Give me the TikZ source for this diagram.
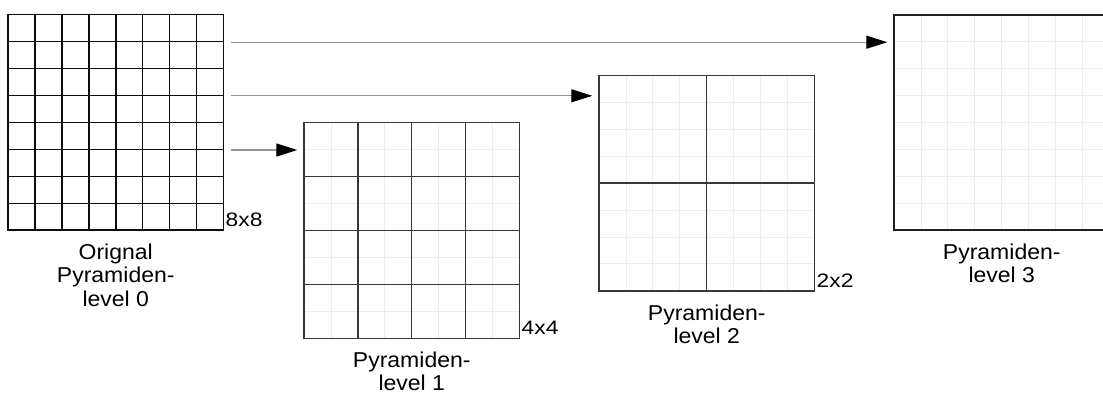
\documentclass[tikz,border=0pt]{standalone}
\usepackage{fontspec}
\setmainfont{Liberation Sans}
\newfontfamily\capfont[FakeStretch=1.07]{Liberation Sans}
\newfontfamily\dimfont[FakeStretch=1.17]{Liberation Sans}
\usetikzlibrary{arrows.meta}

% side of one pyramid level and width of its finest cell
\newcommand\gside{215.5}
\newcommand\gcell{26.9375}

\begin{document}
\begin{tikzpicture}[x=1pt,y=-1pt,
  levelbox/.style={minimum width=\gside pt,minimum height=\gside pt,inner sep=0pt,outer sep=0pt},
  finegrid/.style={draw=black!7,line width=0.8pt},
  coarsegrid/.style={draw=black!78,line width=1.4pt},
  basegrid/.style={draw=black!95,line width=1.5pt},
  arrowline/.style={draw=black!42,line width=1.3pt,
    -{Triangle[length=21pt,width=13pt,color=black]},shorten >=6.7pt},
  caption/.style={font=\capfont\fontsize{21.5}{23.3}\selectfont,align=center,inner sep=0pt},
  dimlabel/.style={font=\dimfont\fontsize{19.5}{22}\selectfont,inner sep=0pt}]

\fill[white] (0,0) rectangle (1103,394);
\useasboundingbox (0,0) rectangle (1103,394);

% the four pyramid levels
\node[levelbox,anchor=north west] (g0) at (8,14.7) {};
\node[levelbox,anchor=north west] (g1) at (304,122.7) {};
\node[levelbox,anchor=north west] (g2) at (599,75.3) {};
\node[levelbox,anchor=north west] (g3) at (894,14.7) {};

% faint 8x8 raster behind the coarser levels
\foreach \g in {g1,g2,g3} {
  \begin{scope}[shift={(\g.north west)}]
    \foreach \k in {1,...,7} {
      \draw[finegrid] (\k*\gcell,0) -- (\k*\gcell,\gside);
      \draw[finegrid] (0,\k*\gcell) -- (\gside,\k*\gcell);
    }
  \end{scope}
}

% level 0: 8x8 cells
\begin{scope}[shift={(g0.north west)}]
  \foreach \k in {1,...,7} {
    \draw[basegrid] (\k*\gcell,0) -- (\k*\gcell,\gside);
    \draw[basegrid] (0,\k*\gcell) -- (\gside,\k*\gcell);
  }
\end{scope}
\draw[basegrid] (g0.north west) rectangle (g0.south east);

% level 1: 4x4 cells
\begin{scope}[shift={(g1.north west)}]
  \foreach \k in {1,2,3} {
    \draw[coarsegrid] (\k*2*\gcell,0) -- (\k*2*\gcell,\gside);
    \draw[coarsegrid] (0,\k*2*\gcell) -- (\gside,\k*2*\gcell);
  }
\end{scope}
\draw[coarsegrid] (g1.north west) rectangle (g1.south east);

% level 2: 2x2 cells
\draw[coarsegrid] (g2.north) -- (g2.south);
\draw[coarsegrid] (g2.west) -- (g2.east);
\draw[coarsegrid] (g2.north west) rectangle (g2.south east);

% level 3: one cell
\draw[draw=black!88,line width=1.6pt] (g3.north west) rectangle (g3.south east);

% arrows from level 0 to the other levels
\coordinate (a1) at (230.5,150);
\coordinate (a2) at (230.5,95.8);
\coordinate (a3) at (230.5,42.2);
\draw[arrowline] (a1) -- (a1 -| g1.west);
\draw[arrowline] (a2) -- (a2 -| g2.west);
\draw[arrowline] (a3) -- (a3 -| g3.west);

% sizes
\node[dimlabel,anchor=base west] (d0) at ([xshift=2pt,yshift=3.8pt]g0.south east) {8x8};
\node[dimlabel,anchor=base west] (d1) at ([xshift=2pt,yshift=3.8pt]g1.south east) {4x4};
\node[dimlabel,anchor=base west] (d2) at ([xshift=2pt,yshift=3.8pt]g2.south east) {2x2};

% captions
\node[caption,anchor=north] (c0) at ([yshift=-13.5pt]g0.south) {Orignal\\Pyramiden-\\level 0};
\node[caption,anchor=north] (c1) at ([yshift=-13.5pt]g1.south) {Pyramiden-\\level 1};
\node[caption,anchor=north] (c2) at ([yshift=-13.5pt]g2.south) {Pyramiden-\\level 2};
\node[caption,anchor=north] (c3) at ([yshift=-13.5pt]g3.south) {Pyramiden-\\level 3};
\end{tikzpicture}
\end{document}
